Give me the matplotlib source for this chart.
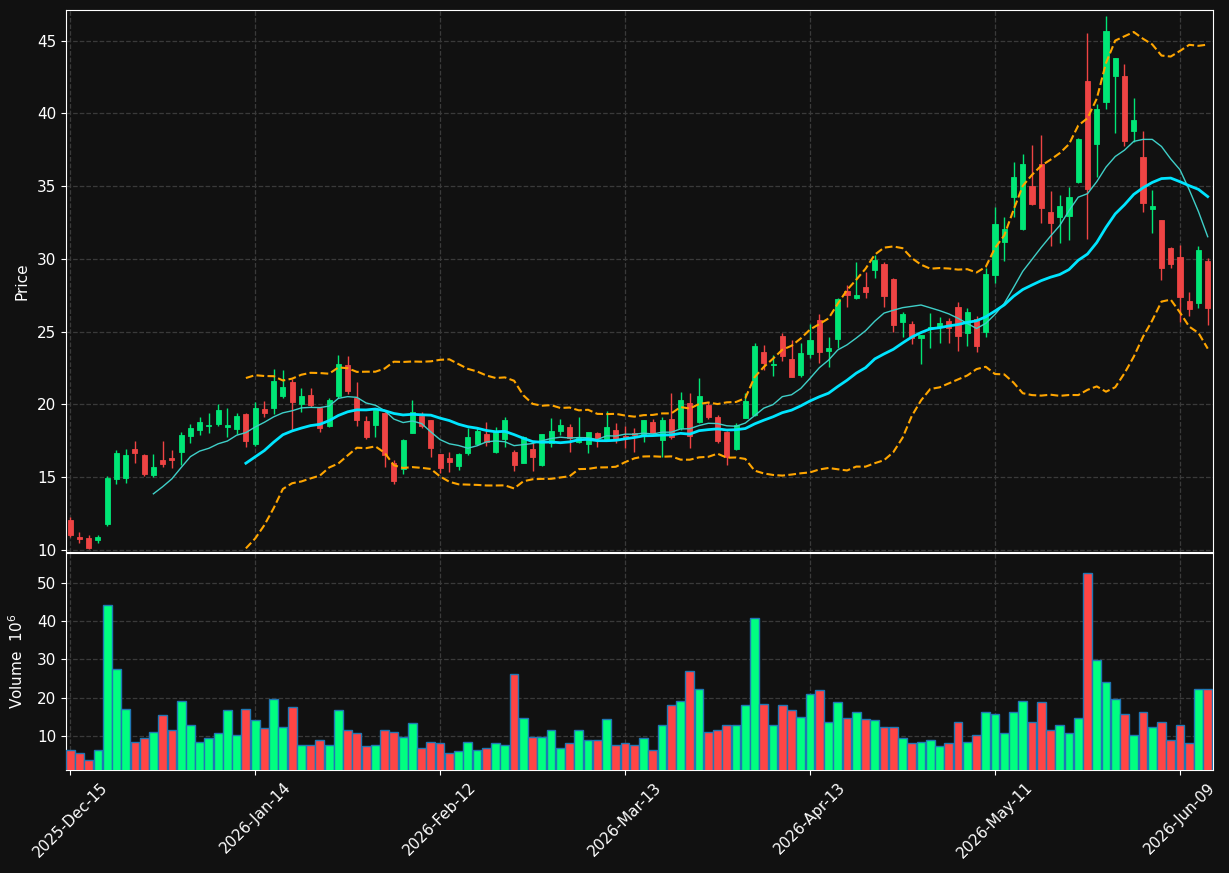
import numpy as np
import pandas as pd
import matplotlib
matplotlib.use('Agg')
import matplotlib.pyplot as plt

# trading calendar
start_date = '2025-12-15'
holidays = ['2025-12-25', '2026-01-01', '2026-01-19', '2026-02-16', '2026-04-03', '2026-05-25']

# daily OHLC
opens = [12.06, 10.89, 10.83, 10.69, 11.79, 14.88, 14.95, 16.94, 16.53, 15.13,
         16.18, 16.32, 16.75, 17.83, 18.27, 18.54, 18.65, 18.47, 18.33, 19.34,
         17.28, 19.70, 19.72, 20.60, 21.52, 20.03, 20.65, 19.73, 18.52, 20.60,
         22.71, 20.42, 18.88, 18.59, 19.41, 15.95, 15.54, 18.06, 19.20, 18.93,
         16.59, 16.34, 15.79, 16.69, 17.28, 17.97, 16.75, 17.60, 16.73, 16.00,
         16.94, 15.84, 17.33, 18.20, 18.43, 17.39, 17.26, 18.01, 17.60, 18.24,
         17.83, 18.01, 17.89, 18.79, 17.55, 18.99, 18.40, 20.07, 18.81, 19.95,
         19.15, 18.12, 16.93, 19.08, 19.27, 23.57, 22.70, 24.69, 23.11, 22.01,
         23.46, 25.79, 23.69, 24.49, 27.78, 27.33, 28.04, 29.23, 29.64, 28.65,
         25.68, 25.52, 24.54, 25.28, 25.34, 25.73, 26.67, 24.93, 25.87, 25.00,
         28.89, 31.18, 34.27, 32.05, 35.00, 36.51, 33.24, 32.90, 32.96, 35.25,
         42.21, 37.89, 40.79, 42.58, 42.56, 38.80, 37.02, 33.42, 32.67, 30.77,
         30.15, 27.10, 26.94, 29.85]
highs = [12.24, 11.21, 11.01, 11.03, 15.08, 16.87, 16.94, 17.49, 16.57, 16.57,
         17.49, 16.87, 18.13, 18.63, 19.11, 19.39, 20.00, 19.73, 19.39, 19.39,
         20.14, 20.21, 22.42, 22.34, 21.72, 21.10, 21.10, 19.85, 20.42, 23.39,
         23.30, 21.56, 19.20, 19.68, 19.45, 16.18, 17.62, 20.30, 19.46, 18.95,
         16.62, 16.75, 16.64, 18.36, 18.47, 18.77, 18.42, 19.11, 16.87, 17.83,
         17.33, 17.94, 19.04, 18.97, 18.63, 19.11, 18.13, 18.08, 19.55, 18.70,
         18.54, 18.35, 18.92, 18.97, 19.15, 20.76, 20.87, 20.76, 21.79, 20.18,
         19.27, 18.15, 18.74, 20.76, 24.24, 24.08, 23.39, 24.92, 24.42, 24.19,
         25.52, 26.20, 24.60, 27.33, 28.20, 29.80, 29.11, 30.26, 29.80, 28.70,
         26.36, 25.75, 24.78, 26.26, 25.98, 25.91, 27.01, 26.60, 26.07, 29.35,
         33.58, 32.90, 36.67, 37.20, 37.82, 38.50, 34.66, 34.38, 34.96, 38.28,
         45.49, 40.61, 46.68, 43.82, 43.36, 41.02, 38.78, 34.73, 32.70, 30.80,
         30.95, 27.70, 30.88, 30.03]
lows = [10.92, 10.46, 10.09, 10.46, 11.67, 14.51, 14.63, 15.95, 15.08, 14.99,
        15.72, 15.66, 15.84, 17.33, 17.88, 18.01, 18.54, 17.74, 17.97, 17.10,
        17.14, 19.11, 19.33, 20.45, 18.24, 19.50, 19.80, 18.08, 18.47, 20.42,
        20.70, 18.50, 17.60, 17.74, 15.72, 14.51, 15.20, 18.01, 18.40, 16.36,
        15.27, 15.38, 15.49, 16.52, 17.21, 17.17, 16.64, 17.10, 15.43, 16.00,
        15.43, 15.79, 17.10, 17.90, 16.75, 17.33, 16.69, 17.10, 17.55, 17.37,
        16.98, 16.75, 17.44, 17.96, 16.36, 17.60, 18.24, 16.98, 18.74, 18.99,
        17.37, 15.83, 16.90, 19.04, 19.22, 22.36, 21.95, 23.00, 21.85, 21.90,
        23.16, 22.86, 22.54, 23.85, 26.66, 27.21, 27.28, 28.72, 26.66, 24.99,
        24.60, 24.12, 22.78, 23.85, 24.19, 24.19, 23.69, 24.03, 23.58, 24.65,
        28.32, 29.87, 32.90, 31.98, 33.70, 32.48, 30.88, 31.06, 31.29, 35.18,
        31.34, 35.64, 40.27, 38.66, 37.75, 38.05, 33.19, 31.75, 28.55, 29.35,
        25.68, 26.07, 26.65, 25.45]
closes = [11.03, 10.76, 10.16, 10.89, 14.97, 16.66, 16.53, 16.66, 15.22, 15.70,
          15.91, 16.18, 17.90, 18.38, 18.79, 18.59, 19.62, 18.56, 19.20, 17.51,
          19.75, 19.43, 21.61, 21.17, 20.19, 20.58, 19.96, 18.40, 20.30, 22.78,
          20.94, 18.93, 17.74, 19.62, 16.52, 14.76, 17.55, 19.48, 18.52, 17.03,
          15.66, 16.07, 16.57, 17.74, 18.20, 17.44, 18.20, 18.93, 15.84, 17.74,
          16.41, 17.94, 18.17, 18.59, 17.67, 17.74, 18.08, 17.67, 18.43, 17.60,
          17.67, 17.89, 18.92, 18.01, 18.92, 17.73, 20.30, 17.85, 20.60, 19.15,
          17.48, 16.36, 18.58, 20.23, 24.01, 22.86, 22.75, 23.32, 21.90, 23.50,
          24.42, 23.62, 23.85, 27.23, 27.51, 27.51, 27.74, 29.91, 27.46, 25.45,
          26.20, 24.53, 24.77, 25.32, 25.57, 25.27, 24.72, 26.32, 24.03, 28.96,
          32.39, 32.05, 35.64, 36.51, 33.77, 33.51, 32.44, 33.63, 34.22, 38.23,
          34.80, 40.29, 45.65, 43.82, 38.12, 39.53, 33.81, 33.63, 29.35, 29.65,
          27.40, 26.53, 30.61, 26.60]
# volume in millions
volumes = [6.5, 5.5, 3.9, 6.3, 44.1, 27.4, 17.0, 8.6, 9.4, 11.0,
           15.4, 11.7, 19.1, 12.8, 8.6, 9.4, 10.7, 16.7, 10.4, 17.2,
           14.1, 12.0, 19.6, 12.3, 17.7, 7.8, 7.6, 8.9, 7.8, 16.7,
           11.5, 10.7, 7.3, 7.6, 11.7, 11.2, 9.9, 13.3, 7.0, 8.6,
           8.1, 5.7, 6.0, 8.6, 6.5, 7.0, 8.1, 7.8, 26.1, 14.6,
           9.7, 9.9, 11.7, 7.0, 8.1, 11.5, 9.1, 8.9, 14.4, 7.6,
           8.3, 7.6, 9.4, 6.5, 13.0, 18.0, 19.1, 27.1, 22.2, 11.0,
           11.7, 13.0, 13.0, 18.0, 40.7, 18.3, 12.8, 18.0, 16.7, 15.1,
           20.9, 21.9, 13.6, 18.8, 14.6, 16.4, 14.4, 14.1, 12.5, 12.5,
           9.4, 8.3, 8.6, 8.9, 7.3, 8.3, 13.8, 8.6, 10.4, 16.4,
           15.9, 10.7, 16.4, 19.1, 13.6, 18.8, 11.5, 12.8, 10.7, 14.6,
           52.5, 29.8, 24.0, 19.8, 15.9, 10.2, 16.4, 12.5, 13.8, 8.9,
           13.0, 8.3, 22.2, 22.2]

dates = pd.bdate_range(start=start_date, periods=len(closes), freq='C', holidays=holidays)
df = pd.DataFrame({'Open': opens, 'High': highs, 'Low': lows, 'Close': closes,
                   'Volume': volumes}, index=dates)

ma10 = df['Close'].rolling(10).mean()
ma20 = df['Close'].rolling(20).mean()
std20 = df['Close'].rolling(20).std(ddof=0)
bb_up = ma20 + 2 * std20
bb_dn = ma20 - 2 * std20

bg = '#111111'
up_c, dn_c = '#00e676', '#ef4444'
vup_c, vdn_c = '#00ff80', '#ff4545'
grid_kw = dict(color='#3a3a3a', linestyle='--', linewidth=0.9)

fig = plt.figure(figsize=(12.29, 8.73), dpi=100, facecolor=bg)
ax = fig.add_axes([66 / 1229, 321 / 873, 1147 / 1229, 542 / 873], facecolor=bg)
axv = fig.add_axes([66 / 1229, 103 / 873, 1147 / 1229, 217 / 873], facecolor=bg, sharex=ax)

x = np.arange(len(df))
rising = df['Close'].values >= df['Open'].values
ccol = np.where(rising, up_c, dn_c)
vcol = np.where(rising, vup_c, vdn_c)

# candles
ax.vlines(x, df['Low'], df['High'], colors=ccol, linewidth=1, zorder=3)
body_lo = np.minimum(df['Open'], df['Close'])
body_h = np.abs(df['Close'] - df['Open'])
ax.bar(x, body_h, bottom=body_lo, width=0.55, color=ccol, edgecolor=ccol,
       linewidth=0.6, zorder=4)

# moving averages and bands
ax.plot(x, ma10, color='#3fcfc8', linewidth=1, zorder=5)
ax.plot(x, ma20, color='#00e5ff', linewidth=2, zorder=5)
ax.plot(x, bb_up, color='#ffa500', linestyle='--', linewidth=1.5, zorder=5)
ax.plot(x, bb_dn, color='#ffa500', linestyle='--', linewidth=1.5, zorder=5)

# volume
axv.bar(x, df['Volume'], width=0.95, color=vcol, edgecolor='#1f77b4', linewidth=1, zorder=3)

ax.set_xlim(-0.45, len(df) - 0.43)
ax.set_ylim(9.86, 47.1)
axv.set_ylim(0.3 * df['Volume'].min(), 1.1 * df['Volume'].max())

tick_pos = x[::20]
axv.set_xticks(tick_pos)
axv.set_xticklabels(df.index[::20].strftime('%Y-%b-%d'), rotation=45)
ax.set_yticks(np.arange(10, 46, 5))
axv.set_yticks(np.arange(10, 51, 10))

for a in (ax, axv):
    a.grid(True, **grid_kw)
    a.set_axisbelow(True)
    for s in a.spines.values():
        s.set_color('white')
    a.tick_params(colors='white', labelsize=11)
ax.tick_params(axis='x', bottom=False, labelbottom=False)

ax.set_ylabel('Price', color='white', fontsize=11)
axv.set_ylabel('Volume  $10^{6}$', color='white', fontsize=11)
ax.yaxis.set_label_coords(-0.032, 0.5)
axv.yaxis.set_label_coords(-0.035, 0.5)

fig.savefig('out.png', dpi=100, facecolor=bg)
